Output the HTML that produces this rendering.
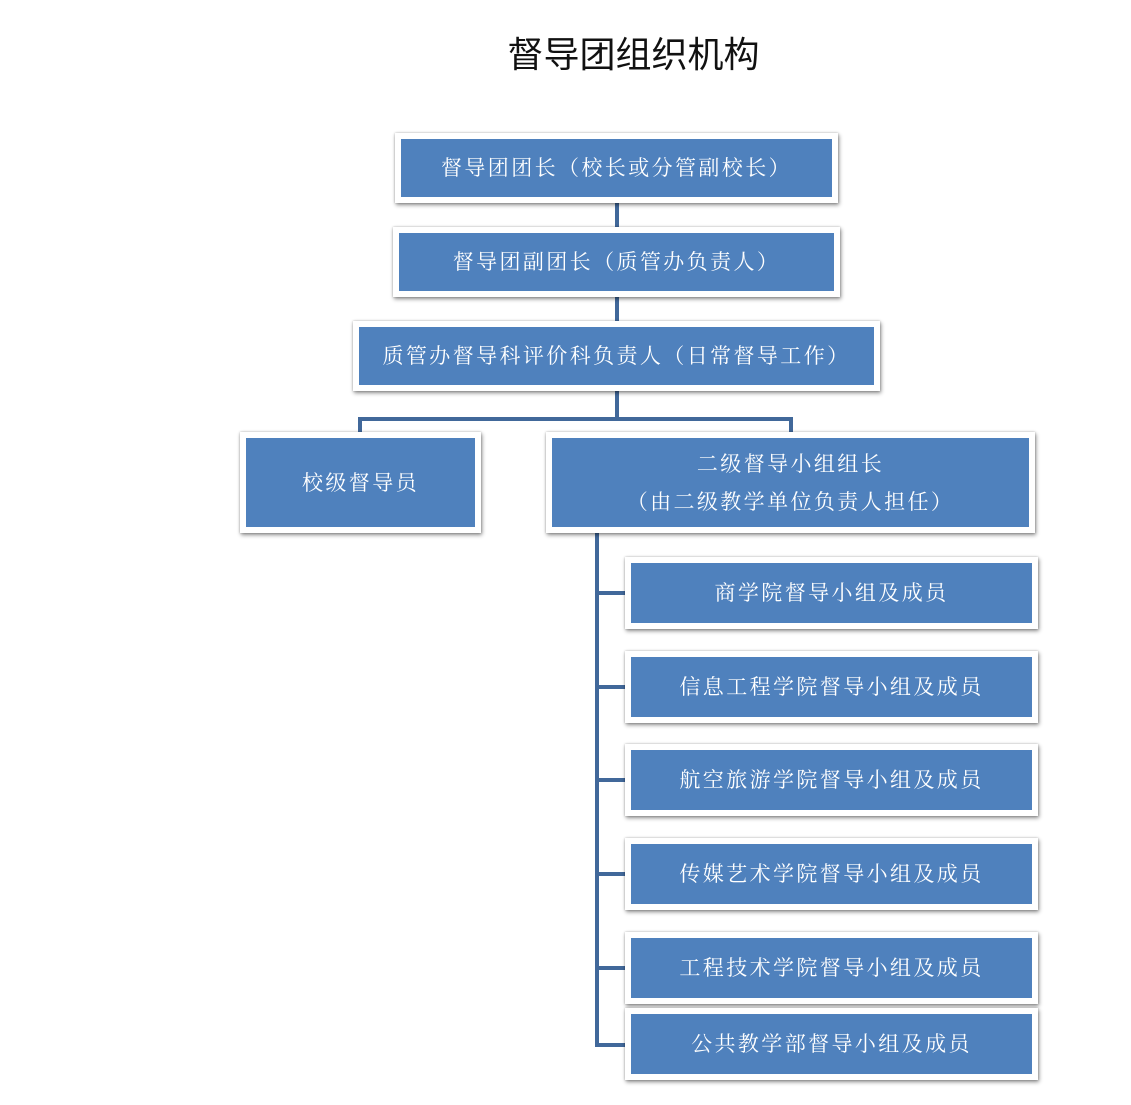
<!DOCTYPE html>
<html><head><meta charset="utf-8"><style>
html,body{margin:0;padding:0;background:#fff;}
body{width:1131px;height:1105px;position:relative;overflow:hidden;}
.t{position:absolute;left:0;width:1131px;top:26px;text-align:center;padding-left:136px;box-sizing:border-box;font:36px "Liberation Sans","Noto Sans CJK SC",sans-serif;color:#111;}
.b{position:absolute;background:#4f81bd;border:6px solid #fff;box-shadow:1px 2px 4px rgba(0,0,0,0.45),0 0 2px rgba(0,0,0,0.25);color:#fff;font:21px "Liberation Serif","Noto Serif CJK SC",serif;display:flex;align-items:center;justify-content:center;text-align:center;line-height:38px;letter-spacing:2.4px;}
.l{position:absolute;background:#41689a;}
</style></head><body>
<div class="t">督导团组织机构</div>

<div class="l" style="left:615px;top:200px;width:4px;height:30px"></div>
<div class="l" style="left:615px;top:294px;width:4px;height:30px"></div>
<div class="l" style="left:615px;top:388px;width:4px;height:32px"></div>
<div class="l" style="left:358px;top:417px;width:435px;height:4px"></div>
<div class="l" style="left:358px;top:417px;width:4px;height:18px"></div>
<div class="l" style="left:789px;top:417px;width:4px;height:18px"></div>
<div class="l" style="left:595px;top:530px;width:4px;height:517px"></div>
<div class="l" style="left:595px;top:591px;width:33px;height:4px"></div>
<div class="l" style="left:595px;top:685px;width:33px;height:4px"></div>
<div class="l" style="left:595px;top:778px;width:33px;height:4px"></div>
<div class="l" style="left:595px;top:872px;width:33px;height:4px"></div>
<div class="l" style="left:595px;top:966px;width:33px;height:4px"></div>
<div class="l" style="left:595px;top:1043px;width:33px;height:4px"></div>

<div class="b" style="left:395px;top:133px;width:431px;height:58px">督导团团长（校长或分管副校长）</div>
<div class="b" style="left:393px;top:227px;width:435px;height:58px">督导团副团长（质管办负责人）</div>
<div class="b" style="left:353px;top:321px;width:515px;height:58px">质管办督导科评价科负责人（日常督导工作）</div>
<div class="b" style="left:240px;top:432px;width:229px;height:89px">校级督导员</div>
<div class="b" style="left:546px;top:432px;width:477px;height:89px">二级督导小组组长<br>（由二级教学单位负责人担任）</div>

<div class="b" style="left:625px;top:557px;width:401px;height:60px">商学院督导小组及成员</div>
<div class="b" style="left:625px;top:651px;width:401px;height:60px">信息工程学院督导小组及成员</div>
<div class="b" style="left:625px;top:744px;width:401px;height:60px">航空旅游学院督导小组及成员</div>
<div class="b" style="left:625px;top:838px;width:401px;height:60px">传媒艺术学院督导小组及成员</div>
<div class="b" style="left:625px;top:932px;width:401px;height:60px">工程技术学院督导小组及成员</div>
<div class="b" style="left:625px;top:1008px;width:401px;height:60px">公共教学部督导小组及成员</div>
</body></html>
